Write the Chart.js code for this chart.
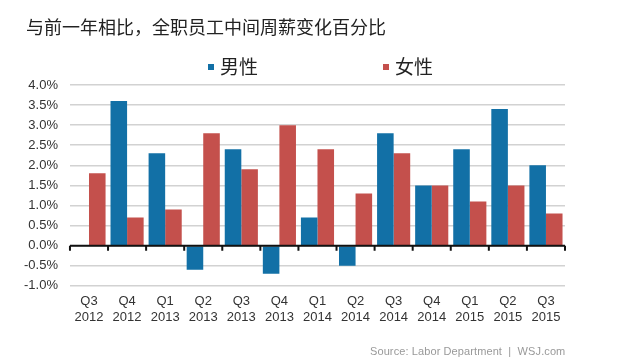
<!DOCTYPE html>
<html><head><meta charset="utf-8">
<script src="https://cdn.jsdelivr.net/npm/chart.js@4.4.1/dist/chart.umd.min.js"></script>
<style>
html,body{margin:0;padding:0;background:#fff;}
#wrap{position:relative;width:635px;height:364px;}
#title{position:absolute;left:26px;top:13px;font:18px "Noto Sans CJK SC",sans-serif;color:#222;}
#src{position:absolute;left:370px;top:345px;font:11px "Liberation Sans",Arial,sans-serif;color:#999;white-space:pre;letter-spacing:0.1px;}
.lg{position:absolute;top:53px;font:19px "Noto Sans CJK SC",sans-serif;color:#222;line-height:26px;}
.lg i{display:inline-block;width:6px;height:6px;margin-right:6px;vertical-align:middle;position:relative;top:-2px;}
</style></head>
<body><div id="wrap">
<canvas id="c" width="635" height="364"></canvas>
<div id="title">与前一年相比，全职员工中间周薪变化百分比</div>
<div id="lg0" class="lg" style="left:208px"></div>
<div id="lg1" class="lg" style="left:383px"></div>
<div id="src">Source: Labor Department  |  WSJ.com</div>
</div>
<script>
const quarters = ["Q3","Q4","Q1","Q2","Q3","Q4","Q1","Q2","Q3","Q4","Q1","Q2","Q3"];
const years = ["2012","2012","2013","2013","2013","2013","2014","2014","2014","2014","2015","2015","2015"];
const men = [null,3.6,2.3,-0.6,2.4,-0.7,0.7,-0.5,2.8,1.5,2.4,3.4,2.0];
const women = [1.8,0.7,0.9,2.8,1.9,3.0,2.4,1.3,2.3,1.5,1.1,1.5,0.8];
const seriesNames = ["男性","女性"];
const seriesColors = ["#1270a6","#c4504c"];
const yTicks = [-1.0,-0.5,0,0.5,1.0,1.5,2.0,2.5,3.0,3.5,4.0];

const labels = quarters.map((q,i)=>[q, years[i]]);

seriesNames.forEach((n,i)=>{
  const el = document.getElementById('lg'+i);
  const sw = document.createElement('i');
  sw.style.background = seriesColors[i];
  el.appendChild(sw);
  el.appendChild(document.createTextNode(n));
});

const zeroLine = {
  id:'zeroLine',
  afterDatasetsDraw(chart){
    const {ctx, chartArea, scales:{x,y}} = chart;
    const y0 = y.getPixelForValue(0);
    ctx.save();
    ctx.strokeStyle='#111';
    ctx.lineWidth=2;
    ctx.beginPath();
    ctx.moveTo(chartArea.left, y0);
    ctx.lineTo(chartArea.right, y0);
    const w = x.getPixelForValue(1)-x.getPixelForValue(0);
    for(let i=0;i<=labels.length;i++){
      const px = x.getPixelForValue(0) - w/2 + i*w;
      ctx.moveTo(px, y0);
      ctx.lineTo(px, y0+5);
    }
    ctx.stroke();
    ctx.restore();
  }
};

new Chart(document.getElementById('c'), {
  type:'bar',
  data:{
    labels: labels,
    datasets:[
      {label:seriesNames[0], data:men, backgroundColor:seriesColors[0]},
      {label:seriesNames[1], data:women, backgroundColor:seriesColors[1]}
    ]
  },
  options:{
    responsive:false,
    animation:false,
    devicePixelRatio:1,
    layout:{padding:{left:12,right:70,top:85,bottom:31}},
    datasets:{bar:{categoryPercentage:0.87,barPercentage:1.0}},
    plugins:{
      legend:{display:false},
      tooltip:{enabled:false},
      title:{display:false}
    },
    scales:{
      x:{
        grid:{display:false, drawTicks:false},
        border:{display:false},
        ticks:{color:'#333', font:{size:13, family:'"Liberation Sans", Arial, sans-serif'}, maxRotation:0, autoSkip:false, padding:8}
      },
      y:{
        min:-1, max:4,
        afterBuildTicks(axis){ axis.ticks = yTicks.map(v=>({value:v})); },
        grid:{color:'#d2d2d2', lineWidth:1.5, drawTicks:false},
        border:{display:false},
        ticks:{color:'#333', padding:12, autoSkip:false, font:{size:13, family:'"Liberation Sans", Arial, sans-serif'},
          callback:(v)=>Number(v).toFixed(1)+'%'}
      }
    }
  },
  plugins:[zeroLine]
});
</script>
</body></html>
